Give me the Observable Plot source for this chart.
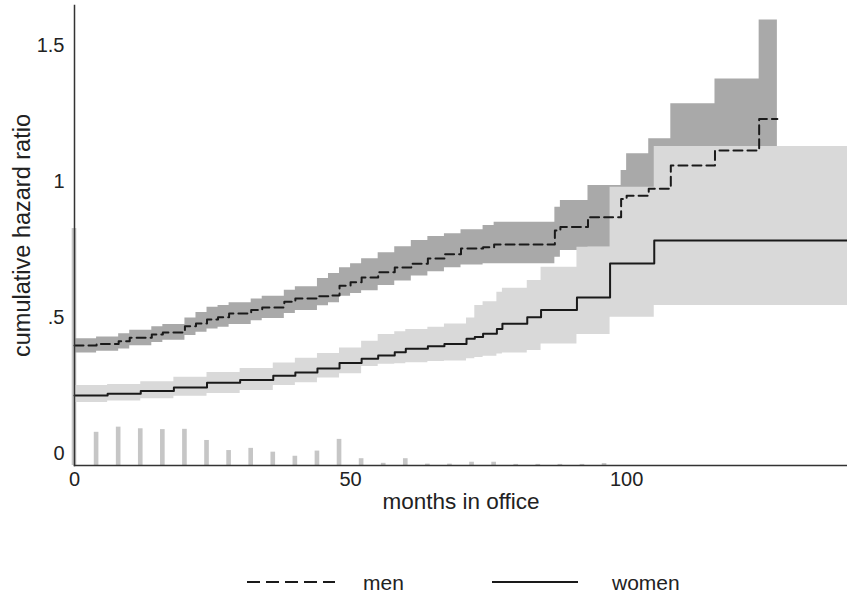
<!DOCTYPE html>
<html>
<head>
<meta charset="utf-8">
<script src="https://cdn.jsdelivr.net/npm/d3@7"></script>
<script src="https://cdn.jsdelivr.net/npm/@observablehq/plot@0.6"></script>
<style>
  html, body { margin: 0; padding: 0; background: #fff; }
  #wrap { width: 847px; position: relative; font-family: "Liberation Sans", Arial, sans-serif; }
  #legend { position: relative; width: 847px; height: 63px; }
  #legend .item { position: absolute; top: 41px; font-size: 21px; color: #222; line-height: 24px; }
  #legend svg { position: absolute; top: 49px; }
</style>
</head>
<body>
<div id="wrap">
  <div id="chart"></div>
  <div id="legend">
    <svg style="left:247px" width="90" height="6"><line x1="0" y1="3" x2="88" y2="3" stroke="#1a1a1a" stroke-width="2" stroke-dasharray="13,6"/></svg>
    <span class="item" style="left:363px">men</span>
    <svg style="left:492px" width="90" height="6"><line x1="0" y1="3" x2="86" y2="3" stroke="#1a1a1a" stroke-width="2"/></svg>
    <span class="item" style="left:612px">women</span>
  </div>
</div>
<script>
// ---- data ----
const menMonths = [0, 4, 8, 10, 14, 16, 20, 22, 24, 26, 28, 32, 34, 38, 40, 44, 46, 48, 50, 52, 55, 58, 61, 64, 67, 70, 74, 76, 87, 88, 93, 99, 100, 104, 108, 116, 124, 127.3];
const menEst    = [0.399, 0.405, 0.415, 0.428, 0.440, 0.447, 0.470, 0.480, 0.495, 0.503, 0.517, 0.530, 0.539, 0.560, 0.572, 0.580, 0.583, 0.619, 0.632, 0.649, 0.668, 0.686, 0.700, 0.719, 0.735, 0.756, 0.760, 0.770, 0.822, 0.835, 0.871, 0.938, 0.950, 0.975, 1.061, 1.116, 1.232, 1.232];
const menLo     = [0.372, 0.378, 0.386, 0.398, 0.410, 0.418, 0.436, 0.448, 0.460, 0.466, 0.476, 0.490, 0.498, 0.517, 0.528, 0.545, 0.556, 0.580, 0.590, 0.600, 0.620, 0.636, 0.655, 0.670, 0.685, 0.695, 0.700, 0.700, 0.724, 0.748, 0.760, 0.800, 0.810, 0.830, 0.900, 0.950, 1.000, 1.000];
const menHi     = [0.424, 0.430, 0.442, 0.455, 0.468, 0.476, 0.500, 0.520, 0.540, 0.546, 0.556, 0.570, 0.580, 0.602, 0.615, 0.645, 0.664, 0.685, 0.700, 0.718, 0.740, 0.762, 0.785, 0.800, 0.810, 0.825, 0.840, 0.852, 0.907, 0.932, 0.987, 1.042, 1.104, 1.159, 1.288, 1.379, 1.596, 1.596];

const womenMonths = [0, 6, 12, 18, 24, 30, 36, 40, 44, 48, 52, 55, 58, 60, 64, 67, 71, 72.5, 74, 76.5, 77.5, 82, 84.5, 91, 97, 105, 140];
const womenEst    = [0.215, 0.222, 0.232, 0.245, 0.262, 0.272, 0.288, 0.300, 0.315, 0.335, 0.350, 0.362, 0.374, 0.387, 0.396, 0.405, 0.424, 0.430, 0.442, 0.460, 0.479, 0.503, 0.530, 0.576, 0.701, 0.785, 0.785];
const womenLo     = [0.190, 0.195, 0.203, 0.213, 0.223, 0.234, 0.252, 0.262, 0.280, 0.295, 0.322, 0.330, 0.332, 0.336, 0.340, 0.342, 0.350, 0.355, 0.360, 0.368, 0.372, 0.381, 0.405, 0.440, 0.503, 0.546, 0.546];
const womenHi     = [0.252, 0.256, 0.266, 0.282, 0.300, 0.315, 0.335, 0.352, 0.370, 0.390, 0.415, 0.440, 0.450, 0.458, 0.466, 0.478, 0.500, 0.546, 0.560, 0.595, 0.610, 0.638, 0.687, 0.760, 0.981, 1.131, 1.131];

const barMonths  = [0, 4, 8, 12, 16, 20, 24, 28, 32, 36, 40, 44, 48, 52, 56, 60, 64, 68, 72, 76, 80, 84, 88, 92, 96];
const barHeights = [0.871, 0.122, 0.141, 0.135, 0.132, 0.133, 0.092, 0.055, 0.063, 0.049, 0.034, 0.053, 0.096, 0.025, 0.008, 0.025, 0.005, 0.005, 0.012, 0.012, 0.004, 0.004, 0.004, 0.004, 0.007];

const xTicks = [0, 50, 100];
const yTicks = [0, 0.5, 1, 1.5];
const yMin = -0.042, yMax = 1.649;

// ---- tables ----
const men = menMonths.map((m, i) => ({m, est: menEst[i], lo: menLo[i], hi: menHi[i]}));
const women = womenMonths.map((m, i) => ({m, est: womenEst[i], lo: womenLo[i], hi: womenHi[i]}));
const bars = barMonths.map((m, i) => ({m, h: barHeights[i]}));

const chart = Plot.plot({
  width: 847,
  height: 530,
  marginLeft: 74,
  marginRight: 0,
  marginTop: 5,
  marginBottom: 65,
  style: {fontFamily: "'Liberation Sans', Arial, sans-serif", fontSize: "20px", color: "#222", background: "#fff"},
  x: {domain: [0, 140]},
  y: {domain: [yMin, yMax]},
  marks: [
    Plot.rect(bars, {x1: d => d.m - 0.42, x2: d => d.m + 0.42, y1: yMin, y2: d => yMin + d.h, fill: "#c6c6c6"}),
    Plot.areaY(men, {x: "m", y1: "lo", y2: "hi", curve: "step-after", fill: "#a9a9a9"}),
    Plot.areaY(women, {x: "m", y1: "lo", y2: "hi", curve: "step-after", fill: "#d9d9d9"}),
    Plot.line(men, {x: "m", y: "est", curve: "step-after", stroke: "#1a1a1a", strokeWidth: 2, strokeDasharray: "9,5"}),
    Plot.line(women, {x: "m", y: "est", curve: "step-after", stroke: "#1a1a1a", strokeWidth: 2}),
    Plot.frame({anchor: "left", stroke: "#333", strokeWidth: 1.5}),
    Plot.frame({anchor: "bottom", stroke: "#333", strokeWidth: 1.5}),
    Plot.axisX({ticks: xTicks, tickSize: 0, tickPadding: 6, tickFormat: d => String(d), label: null}),
    Plot.axisY({ticks: yTicks, tickSize: 0, tickPadding: 10, tickFormat: d => d === 0 ? "0" : String(d).replace(/^0\./, "."), label: null}),
    Plot.text(["months in office"], {frameAnchor: "bottom", dy: 43, fontSize: 22.5, fill: "#222"}),
    Plot.text(["cumulative hazard ratio"], {frameAnchor: "left", textAnchor: "middle", rotate: -90, dx: -52, fontSize: 23.5, fill: "#222"})
  ]
});
document.getElementById("chart").appendChild(chart);
</script>
</body>
</html>
